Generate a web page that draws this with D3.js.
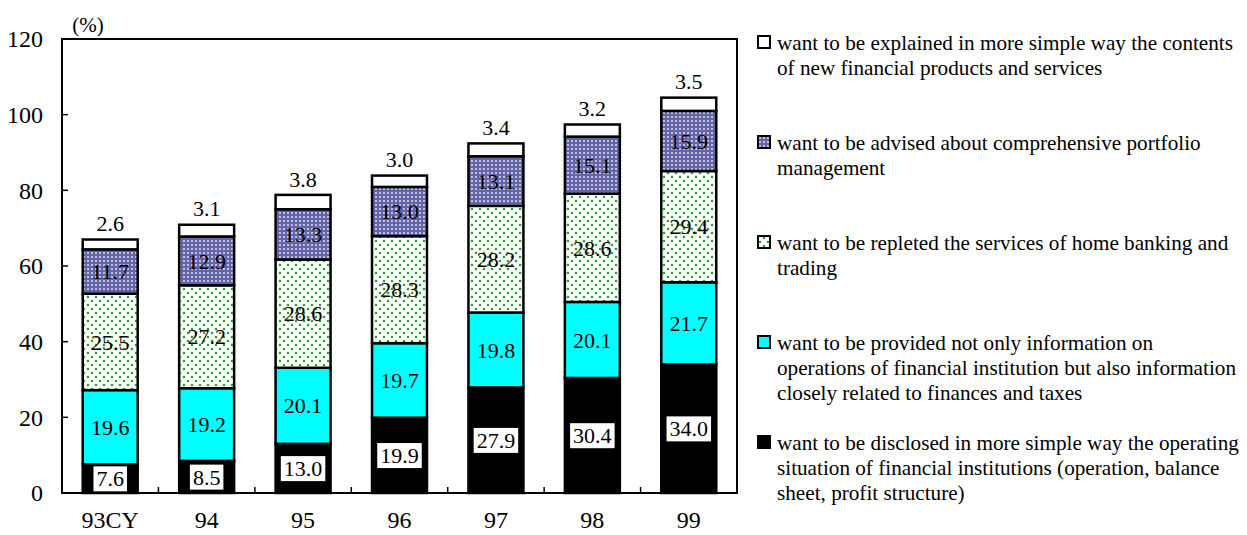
<!DOCTYPE html>
<html>
<head>
<meta charset="utf-8">
<script src="https://cdn.jsdelivr.net/npm/d3@7"></script>
<style>
  body { margin: 0; background: #fff; }
  svg { font-family: "Liberation Serif", "Times New Roman", serif; }
</style>
</head>
<body>
<div class="canvas"></div>
<script>
// data
const categories = ['93CY', '94', '95', '96', '97', '98', '99']
const disclosed = [7.6, 8.5, 13.0, 19.9, 27.9, 30.4, 34.0]
const provided = [19.6, 19.2, 20.1, 19.7, 19.8, 20.1, 21.7]
const repleted = [25.5, 27.2, 28.6, 28.3, 28.2, 28.6, 29.4]
const advised = [11.7, 12.9, 13.3, 13.0, 13.1, 15.1, 15.9]
const explained = [2.6, 3.1, 3.8, 3.0, 3.4, 3.2, 3.5]
const yTicks = [0, 20, 40, 60, 80, 100, 120]

const legendLabels = [
    ['want to be explained in more simple way the contents', 'of new financial products and services'],
    ['want to be advised about comprehensive portfolio', 'management'],
    ['want to be repleted the services of home banking and', 'trading'],
    ['want to be provided not only information on', 'operations of financial institution but also information', 'closely related to finances and taxes'],
    ['want to be disclosed in more simple way the operating', 'situation of financial institutions (operation, balance', 'sheet, profit structure)']
]

const series = [
    {key: 'disclosed', values: disclosed, fill: '#000'},
    {key: 'provided', values: provided, fill: '#00ffff'},
    {key: 'repleted', values: repleted, fill: 'url(#greenDots)'},
    {key: 'advised', values: advised, fill: 'url(#purpleDots)'},
    {key: 'explained', values: explained, fill: '#fff'}
]

const svg = d3.select('.canvas')
    .append('svg')
    .attr('width', 1247)
    .attr('height', 535)

// patterns
const defs = svg.append('defs')
const pg = defs.append('pattern')
    .attr('id', 'greenDots')
    .attr('patternUnits', 'userSpaceOnUse')
    .attr('width', 8).attr('height', 8)
pg.append('rect').attr('width', 8).attr('height', 8).attr('fill', '#fff')
pg.append('circle').attr('cx', 2).attr('cy', 2).attr('r', 1.3).attr('fill', '#2e9e3a')
pg.append('circle').attr('cx', 6).attr('cy', 6).attr('r', 1.3).attr('fill', '#2e9e3a')

const pp = defs.append('pattern')
    .attr('id', 'purpleDots')
    .attr('patternUnits', 'userSpaceOnUse')
    .attr('width', 4).attr('height', 4)
pp.append('rect').attr('width', 4).attr('height', 4).attr('fill', '#6464a8')
pp.append('circle').attr('cx', 2).attr('cy', 2).attr('r', 0.9).attr('fill', '#ececf6')

const margin = {top: 39, left: 62}
const graphWidth = 675
const graphHeight = 454

const graph = svg.append('g')
    .attr('transform', `translate(${margin.left}, ${margin.top})`)

const x = d3.scaleBand()
    .domain(categories)
    .range([0, graphWidth])
    .paddingInner(0.43)
    .paddingOuter(0.215)

const y = d3.scaleLinear()
    .domain([0, 120])
    .range([graphHeight, 0])

// stack the series
const rows = categories.map((c, i) => {
    const r = {cat: c}
    series.forEach(s => r[s.key] = s.values[i])
    return r
})
const stacked = d3.stack().keys(series.map(s => s.key))(rows)

// frame
graph.append('rect')
    .attr('width', graphWidth)
    .attr('height', graphHeight)
    .attr('fill', 'none')
    .attr('stroke', '#000')
    .attr('stroke-width', 2)

// y axis with inner ticks
const yAxis = d3.axisLeft(y).tickValues(yTicks).tickSize(0).tickPadding(19)
const yAxisGroup = graph.append('g').call(yAxis)
yAxisGroup.select('.domain').remove()
yAxisGroup.selectAll('text')
    .attr('font-size', 24)
    .attr('font-family', 'Liberation Serif')
    .attr('fill', '#000')
graph.append('g').selectAll('line')
    .data(yTicks.slice(1, -1))
    .enter().append('line')
    .attr('x1', 0).attr('x2', 6)
    .attr('y1', d => y(d)).attr('y2', d => y(d))
    .attr('stroke', '#000').attr('stroke-width', 1.5)

// x axis labels and ticks between categories
const step = x.step()
graph.append('g').selectAll('line')
    .data(categories.slice(1))
    .enter().append('line')
    .attr('x1', d => x(d) - x.paddingInner() * step / 2)
    .attr('x2', d => x(d) - x.paddingInner() * step / 2)
    .attr('y1', graphHeight).attr('y2', graphHeight - 6)
    .attr('stroke', '#000').attr('stroke-width', 1.5)
graph.append('g').selectAll('text')
    .data(categories)
    .enter().append('text')
    .attr('x', d => x(d) + x.bandwidth() / 2)
    .attr('y', graphHeight + 35)
    .attr('text-anchor', 'middle')
    .attr('font-size', 24)
    .text(d => d)

graph.append('text')
    .attr('x', 26).attr('y', -7)
    .attr('text-anchor', 'middle')
    .attr('font-size', 21)
    .text('(%)')

// bars
const layers = graph.selectAll('g.layer')
    .data(stacked)
    .enter().append('g')
    .attr('class', 'layer')
    .attr('fill', (d, i) => series[i].fill)

layers.selectAll('rect')
    .data(d => d)
    .enter().append('rect')
    .attr('x', d => x(d.data.cat))
    .attr('y', d => y(d[1]))
    .attr('width', x.bandwidth())
    .attr('height', d => y(d[0]) - y(d[1]))
    .attr('stroke', '#000')
    .attr('stroke-width', 2.5)

// value labels
stacked.forEach((layer, li) => {
    layer.forEach(d => {
        const v = series[li].values[categories.indexOf(d.data.cat)]
        const cx = x(d.data.cat) + x.bandwidth() / 2
        let cy = y((d[0] + d[1]) / 2)
        if (li === 4) cy = y(d[1]) - 16
        const t = graph.append('text')
            .attr('x', cx).attr('y', cy)
            .attr('dy', '0.35em')
            .attr('text-anchor', 'middle')
            .attr('font-size', 22)
            .text(v.toFixed(1))
        if (li === 0) {
            const bb = t.node().getBBox()
            graph.insert('rect', () => t.node())
                .attr('x', bb.x - 3).attr('y', bb.y)
                .attr('width', bb.width + 6).attr('height', bb.height)
                .attr('fill', '#fff')
        }
    })
})

// legend
const legendFills = ['#fff', 'url(#purpleDots)', 'url(#greenDots)', '#00ffff', '#000']
const legend = svg.append('g').attr('transform', 'translate(758, 0)')
legendLabels.forEach((lines, i) => {
    const top = 36 + i * 100
    legend.append('rect')
        .attr('x', 0).attr('y', top)
        .attr('width', 12).attr('height', 12)
        .attr('fill', legendFills[i])
        .attr('stroke', '#000')
        .attr('stroke-width', 2)
    lines.forEach((line, j) => {
        legend.append('text')
            .attr('x', 19)
            .attr('y', top + 14 + j * 25)
            .attr('font-size', 21.2)
            .text(line)
    })
})
</script>
</body>
</html>
